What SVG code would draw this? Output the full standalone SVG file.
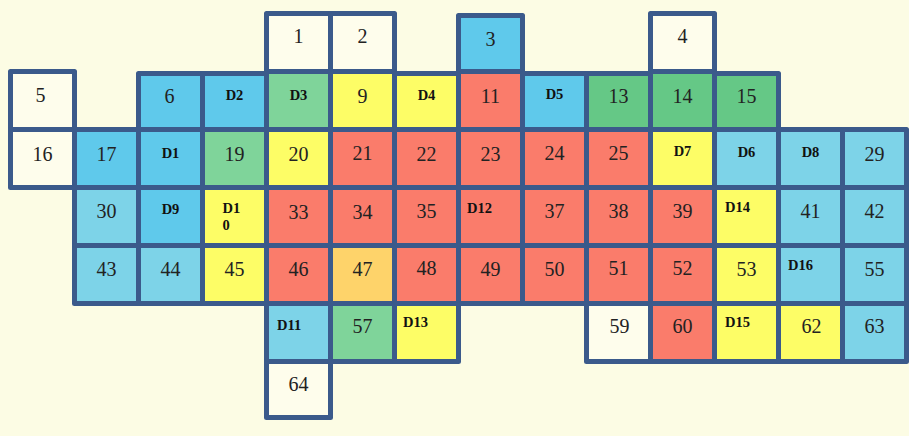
<svg xmlns="http://www.w3.org/2000/svg" width="909" height="436" viewBox="0 0 909 436">
<style>
.c{stroke:#3b5a8b;stroke-width:5;stroke-linejoin:round}
.w{fill:#fefdec}.b{fill:#5fc9eb}.lb{fill:#7dd3e8}.g{fill:#7fd49a}.dg{fill:#65c886}.y{fill:#fdfd66}.r{fill:#fa7c6b}.o{fill:#fed36a}
.n{font-family:"Liberation Serif","Times New Roman",serif;font-size:20px;fill:#222;text-anchor:middle}
.d{font-family:"Liberation Serif","Times New Roman",serif;font-size:14.5px;font-weight:bold;fill:#111;text-anchor:middle}
.dl{font-family:"Liberation Serif","Times New Roman",serif;font-size:14.5px;font-weight:bold;fill:#111}
</style>
<rect width="909" height="436" fill="#fcfce4"/>
<g id="connectors"/>
<!-- row 0 -->
<g id="cell-1"><rect class="c w" x="266.5" y="13.5" width="64" height="58"/><text class="n" x="298.5" y="43">1</text></g>
<g id="cell-2"><rect class="c w" x="330.5" y="13.5" width="64" height="58"/><text class="n" x="362.5" y="43">2</text></g>
<g id="cell-3"><rect class="c b" x="458.5" y="15.5" width="64" height="56"/><text class="n" x="490.5" y="46">3</text></g>
<g id="cell-4"><rect class="c w" x="650.5" y="13.5" width="64" height="58"/><text class="n" x="682.5" y="43">4</text></g>
<!-- row 1 -->
<g id="cell-5"><rect class="c w" x="10.5" y="71.5" width="64" height="58"/><text class="n" x="40.5" y="102">5</text></g>
<g id="cell-6"><rect class="c b" x="138.5" y="73.5" width="64" height="56"/><text class="n" x="169.5" y="103">6</text></g>
<g id="cell-D2"><rect class="c b" x="202.5" y="73.5" width="64" height="56"/><text class="d" x="234.5" y="100">D2</text></g>
<g id="cell-D3"><rect class="c g" x="266.5" y="71.5" width="64" height="58"/><text class="d" x="298.5" y="100">D3</text></g>
<g id="cell-9"><rect class="c y" x="330.5" y="71.5" width="64" height="58"/><text class="n" x="362.5" y="103">9</text></g>
<g id="cell-D4"><rect class="c y" x="394.5" y="73.5" width="64" height="56"/><text class="d" x="426.5" y="100">D4</text></g>
<g id="cell-11"><rect class="c r" x="458.5" y="71.5" width="64" height="58"/><text class="n" x="490.5" y="103">11</text></g>
<g id="cell-D5"><rect class="c b" x="522.5" y="73.5" width="64" height="56"/><text class="d" x="554.5" y="99">D5</text></g>
<g id="cell-13"><rect class="c dg" x="586.5" y="73.5" width="64" height="56"/><text class="n" x="618.5" y="103">13</text></g>
<g id="cell-14"><rect class="c dg" x="650.5" y="71.5" width="64" height="58"/><text class="n" x="682.5" y="103">14</text></g>
<g id="cell-15"><rect class="c dg" x="714.5" y="73.5" width="64" height="56"/><text class="n" x="746.5" y="103">15</text></g>
<!-- row 2 -->
<g id="cell-16"><rect class="c w" x="10.5" y="129.5" width="64" height="58"/><text class="n" x="42.5" y="161">16</text></g>
<g id="cell-17"><rect class="c b" x="74.5" y="129.5" width="64" height="58"/><text class="n" x="106.5" y="161">17</text></g>
<g id="cell-D1"><rect class="c b" x="138.5" y="129.5" width="64" height="58"/><text class="d" x="170.5" y="158">D1</text></g>
<g id="cell-19"><rect class="c g" x="202.5" y="129.5" width="64" height="58"/><text class="n" x="234.5" y="161">19</text></g>
<g id="cell-20"><rect class="c y" x="266.5" y="129.5" width="64" height="58"/><text class="n" x="298.5" y="161">20</text></g>
<g id="cell-21"><rect class="c r" x="330.5" y="129.5" width="64" height="58"/><text class="n" x="362.5" y="160">21</text></g>
<g id="cell-22"><rect class="c r" x="394.5" y="129.5" width="64" height="58"/><text class="n" x="426.5" y="161">22</text></g>
<g id="cell-23"><rect class="c r" x="458.5" y="129.5" width="64" height="58"/><text class="n" x="490.5" y="161">23</text></g>
<g id="cell-24"><rect class="c r" x="522.5" y="129.5" width="64" height="58"/><text class="n" x="554.5" y="160">24</text></g>
<g id="cell-25"><rect class="c r" x="586.5" y="129.5" width="64" height="58"/><text class="n" x="618.5" y="160">25</text></g>
<g id="cell-D7"><rect class="c y" x="650.5" y="129.5" width="64" height="58"/><text class="d" x="682.5" y="156">D7</text></g>
<g id="cell-D6"><rect class="c lb" x="714.5" y="129.5" width="64" height="58"/><text class="d" x="746.5" y="157">D6</text></g>
<g id="cell-D8"><rect class="c lb" x="778.5" y="129.5" width="64" height="58"/><text class="d" x="810.5" y="157">D8</text></g>
<g id="cell-29"><rect class="c lb" x="842.5" y="129.5" width="64" height="58"/><text class="n" x="874.5" y="161">29</text></g>
<!-- row 3 -->
<g id="cell-30"><rect class="c lb" x="74.5" y="187.5" width="64" height="58"/><text class="n" x="106.5" y="218">30</text></g>
<g id="cell-D9"><rect class="c b" x="138.5" y="187.5" width="64" height="58"/><text class="d" x="170.5" y="214">D9</text></g>
<g id="cell-D10"><rect class="c y" x="202.5" y="187.5" width="64" height="58"/><text class="dl" x="222.5" y="213">D1</text><text class="dl" x="222.5" y="230">0</text></g>
<g id="cell-33"><rect class="c r" x="266.5" y="187.5" width="64" height="58"/><text class="n" x="298.5" y="219">33</text></g>
<g id="cell-34"><rect class="c r" x="330.5" y="187.5" width="64" height="58"/><text class="n" x="362.5" y="219">34</text></g>
<g id="cell-35"><rect class="c r" x="394.5" y="187.5" width="64" height="58"/><text class="n" x="426.5" y="218">35</text></g>
<g id="cell-D12"><rect class="c r" x="458.5" y="187.5" width="64" height="58"/><text class="dl" x="467" y="213">D12</text></g>
<g id="cell-37"><rect class="c r" x="522.5" y="187.5" width="64" height="58"/><text class="n" x="554.5" y="218">37</text></g>
<g id="cell-38"><rect class="c r" x="586.5" y="187.5" width="64" height="58"/><text class="n" x="618.5" y="218">38</text></g>
<g id="cell-39"><rect class="c r" x="650.5" y="187.5" width="64" height="58"/><text class="n" x="682.5" y="218">39</text></g>
<g id="cell-D14"><rect class="c y" x="714.5" y="187.5" width="64" height="58"/><text class="dl" x="725" y="212">D14</text></g>
<g id="cell-41"><rect class="c lb" x="778.5" y="187.5" width="64" height="58"/><text class="n" x="810.5" y="218">41</text></g>
<g id="cell-42"><rect class="c lb" x="842.5" y="187.5" width="64" height="58"/><text class="n" x="874.5" y="218">42</text></g>
<!-- row 4 -->
<g id="cell-43"><rect class="c lb" x="74.5" y="245.5" width="64" height="58"/><text class="n" x="106.5" y="276">43</text></g>
<g id="cell-44"><rect class="c lb" x="138.5" y="245.5" width="64" height="58"/><text class="n" x="170.5" y="276">44</text></g>
<g id="cell-45"><rect class="c y" x="202.5" y="245.5" width="64" height="58"/><text class="n" x="234.5" y="276">45</text></g>
<g id="cell-46"><rect class="c r" x="266.5" y="245.5" width="64" height="58"/><text class="n" x="298.5" y="276">46</text></g>
<g id="cell-47"><rect class="c o" x="330.5" y="245.5" width="64" height="58"/><text class="n" x="362.5" y="276">47</text></g>
<g id="cell-48"><rect class="c r" x="394.5" y="245.5" width="64" height="58"/><text class="n" x="426.5" y="275">48</text></g>
<g id="cell-49"><rect class="c r" x="458.5" y="245.5" width="64" height="58"/><text class="n" x="490.5" y="276">49</text></g>
<g id="cell-50"><rect class="c r" x="522.5" y="245.5" width="64" height="58"/><text class="n" x="554.5" y="276">50</text></g>
<g id="cell-51"><rect class="c r" x="586.5" y="245.5" width="64" height="58"/><text class="n" x="618.5" y="275">51</text></g>
<g id="cell-52"><rect class="c r" x="650.5" y="245.5" width="64" height="58"/><text class="n" x="682.5" y="275">52</text></g>
<g id="cell-53"><rect class="c y" x="714.5" y="245.5" width="64" height="58"/><text class="n" x="746.5" y="276">53</text></g>
<g id="cell-D16"><rect class="c lb" x="778.5" y="245.5" width="64" height="58"/><text class="dl" x="788" y="270">D16</text></g>
<g id="cell-55"><rect class="c lb" x="842.5" y="245.5" width="64" height="58"/><text class="n" x="874.5" y="276">55</text></g>
<!-- row 5 -->
<g id="cell-D11"><rect class="c lb" x="266.5" y="303.5" width="64" height="58"/><text class="dl" x="277" y="330">D11</text></g>
<g id="cell-57"><rect class="c g" x="330.5" y="303.5" width="64" height="58"/><text class="n" x="362.5" y="333">57</text></g>
<g id="cell-D13"><rect class="c y" x="394.5" y="303.5" width="64" height="58"/><text class="dl" x="403" y="327">D13</text></g>
<g id="cell-59"><rect class="c w" x="586.5" y="303.5" width="64" height="58"/><text class="n" x="619.5" y="333">59</text></g>
<g id="cell-60"><rect class="c r" x="650.5" y="303.5" width="64" height="58"/><text class="n" x="682.5" y="333">60</text></g>
<g id="cell-D15"><rect class="c y" x="714.5" y="303.5" width="64" height="58"/><text class="dl" x="725" y="327">D15</text></g>
<g id="cell-62"><rect class="c y" x="778.5" y="303.5" width="64" height="58"/><text class="n" x="811.5" y="333">62</text></g>
<g id="cell-63"><rect class="c lb" x="842.5" y="303.5" width="64" height="58"/><text class="n" x="874.5" y="333">63</text></g>
<!-- row 6 -->
<g id="cell-64"><rect class="c w" x="266.5" y="361.5" width="64" height="56"/><text class="n" x="298.5" y="391">64</text></g>
</svg>
